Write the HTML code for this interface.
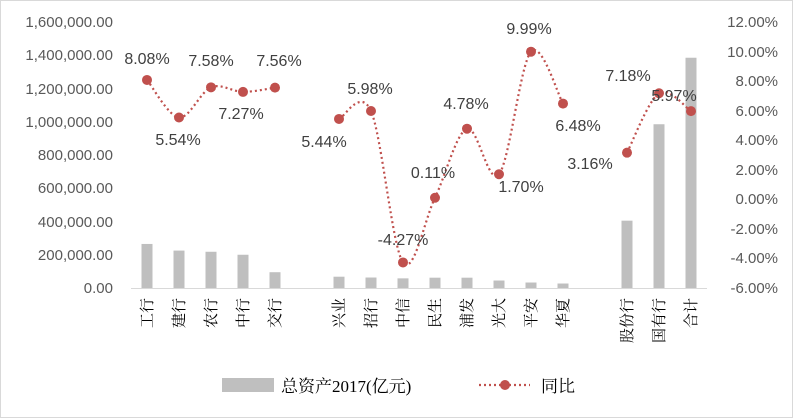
<!DOCTYPE html>
<html><head><meta charset="utf-8"><style>
body{margin:0;background:#fff}
svg{display:block}
</style></head><body>
<svg id="s" width="793" height="418" xmlns="http://www.w3.org/2000/svg" font-family="Liberation Sans, sans-serif">
<rect x="0.5" y="0.5" width="792" height="417" fill="#fff" stroke="#d9d9d9"/>
<g font-size="15" fill="#595959" text-anchor="end">
<text x="113" y="27">1,600,000.00</text>
<text x="113" y="60">1,400,000.00</text>
<text x="113" y="94">1,200,000.00</text>
<text x="113" y="127">1,000,000.00</text>
<text x="113" y="160">800,000.00</text>
<text x="113" y="193">600,000.00</text>
<text x="113" y="227">400,000.00</text>
<text x="113" y="260">200,000.00</text>
<text x="113" y="293">0.00</text>
</g>
<g font-size="15" fill="#595959" text-anchor="end">
<text x="778" y="27">12.00%</text>
<text x="778" y="57">10.00%</text>
<text x="778" y="86">8.00%</text>
<text x="778" y="116">6.00%</text>
<text x="778" y="145">4.00%</text>
<text x="778" y="175">2.00%</text>
<text x="778" y="204">0.00%</text>
<text x="778" y="234">-2.00%</text>
<text x="778" y="263">-4.00%</text>
<text x="778" y="293">-6.00%</text>
</g>
<g id="bars" fill="#bfbfbf"></g>
<line x1="131" y1="288.5" x2="707" y2="288.5" stroke="#d9d9d9"/>
<g id="cats" font-family="Liberation Serif, Noto Serif CJK SC, serif" font-size="15" fill="#000"></g>
<path id="ln" fill="none" stroke="#c0504d" stroke-width="2.2" stroke-dasharray="2,3"/>
<g id="pts" fill="#c0504d"></g>
<g font-size="16" fill="#404040" text-anchor="middle">
<text x="147" y="64">8.08%</text>
<text x="178" y="145">5.54%</text>
<text x="211" y="66">7.58%</text>
<text x="241" y="119">7.27%</text>
<text x="279" y="66">7.56%</text>
<text x="324" y="147">5.44%</text>
<text x="370" y="94">5.98%</text>
<text x="403" y="245">-4.27%</text>
<text x="433" y="178">0.11%</text>
<text x="466" y="109">4.78%</text>
<text x="521" y="192">1.70%</text>
<text x="529" y="34">9.99%</text>
<text x="578" y="131">6.48%</text>
<text x="590" y="169">3.16%</text>
<text x="628" y="81">7.18%</text>
<text x="674" y="101">5.97%</text>
</g>
<rect x="222" y="378" width="52" height="14" fill="#bfbfbf"/>
<text x="281" y="392" font-family="Liberation Serif, Noto Serif CJK SC, serif" font-size="17" fill="#000">总资产2017(亿元)</text>
<line x1="479" y1="385" x2="530" y2="385" stroke="#c0504d" stroke-width="2.2" stroke-dasharray="2,3"/>
<circle cx="505" cy="385" r="5" fill="#c0504d"/>
<text x="541" y="392" font-family="Liberation Serif, Noto Serif CJK SC, serif" font-size="17" fill="#000">同比</text>
</svg>
<script>
var NS="http://www.w3.org/2000/svg";
var names=["工行","建行","农行","中行","交行","","兴业","招行","中信","民生","浦发","光大","平安","华夏","","股份行","国有行","合计"];
var bars=[265000,225000,218000,200000,95000,0,68000,63000,58000,62000,62000,45000,33000,27000,0,405000,985000,1385000];
var pct=[8.08,5.54,7.58,7.27,7.56,null,5.44,5.98,-4.27,0.11,4.78,1.70,9.99,6.48,null,3.16,7.18,5.97];
function X(i){return 147+32*i;}
function Y(v){return 22+(12-v)*14.78;}
var bg=document.getElementById("bars"),cg=document.getElementById("cats"),pg=document.getElementById("pts");
for(var i=0;i<18;i++){
 if(bars[i]){var h=bars[i]/200000*33.25;var r=document.createElementNS(NS,"rect");
 r.setAttribute("x",X(i)-5.5);r.setAttribute("y",288-h);r.setAttribute("width",11);r.setAttribute("height",h);bg.appendChild(r);}
 if(names[i]){var t=document.createElementNS(NS,"text");t.textContent=names[i];
 t.setAttribute("text-anchor","end");t.setAttribute("transform","translate("+(X(i)+5)+",298) rotate(-90)");cg.appendChild(t);}
 if(pct[i]!==null){var c=document.createElementNS(NS,"circle");c.setAttribute("cx",X(i));c.setAttribute("cy",Y(pct[i]));c.setAttribute("r",5);pg.appendChild(c);}
}
var segs=[[0,4],[6,13],[15,17]],d="";
segs.forEach(function(s){
 var p=[];for(var i=s[0];i<=s[1];i++)p.push([X(i),Y(pct[i])]);
 d+="M"+p[0][0]+","+p[0][1];
 for(var k=0;k<p.length-1;k++){
  var p0=p[k-1]||p[k],p1=p[k],p2=p[k+1],p3=p[k+2]||p[k+1],t=0.5/3*1;
  var c1=[p1[0]+(p2[0]-p0[0])/6,p1[1]+(p2[1]-p0[1])/6],c2=[p2[0]-(p3[0]-p1[0])/6,p2[1]-(p3[1]-p1[1])/6];
  d+=" C"+c1+" "+c2+" "+p2;
 }
});
document.getElementById("ln").setAttribute("d",d);
</script>
</body></html>
